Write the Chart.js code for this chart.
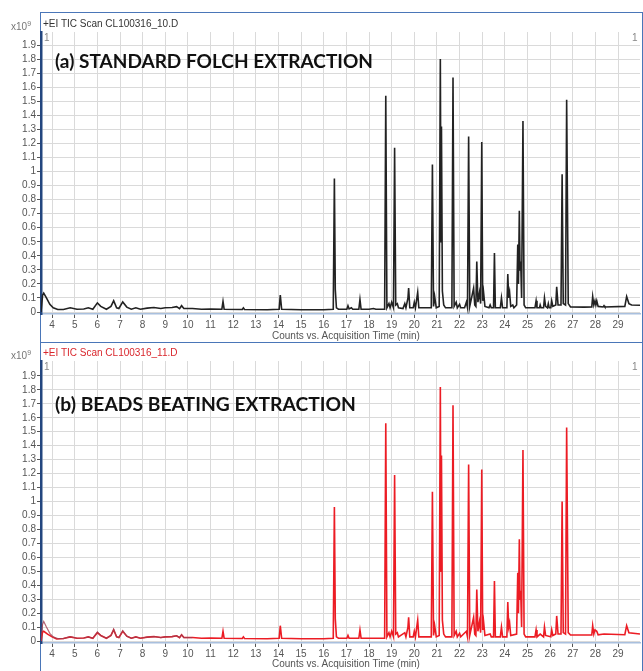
<!DOCTYPE html>
<html>
<head>
<meta charset="utf-8">
<script src="https://cdn.jsdelivr.net/npm/chart.js@4"></script>
<style>
  html, body { margin: 0; padding: 0; background: #fff; }
  #page { position: relative; width: 643px; height: 671px; overflow: hidden; font-family: 'Liberation Sans', Arial, sans-serif; }
  .frame { position: absolute; border: 1.5px solid #4a76b8; box-sizing: border-box; }
  .cv { position: absolute; left: 0; }
  .t { position: absolute; white-space: nowrap; font-size: 10px; line-height: 12px; color: #555; }
  .big { position: absolute; white-space: nowrap; font-family: Lato, 'Open Sans', sans-serif; font-weight: 700; font-size: 19px; color: #111; transform-origin: 0 50%; }
</style>
</head>
<body>
<div id="page">
  <div class="frame" style="left:40px;top:12px;width:603px;height:331px"></div>
  <div class="frame" style="left:40px;top:342px;width:603px;height:340px"></div>
  <div class="cv" style="top:0;width:643px;height:342px"><canvas id="chart-a"></canvas></div>
  <div class="cv" style="top:342px;width:643px;height:329px"><canvas id="chart-b"></canvas></div>

  <div class="t" style="left:11px;top:18px;color:#777">x10<sup style="font-size:7px;vertical-align:4px">9</sup></div>
  <div class="t" style="left:43px;top:18px;color:#333">+EI TIC Scan CL100316_10.D</div>
  <div class="t" style="left:44px;top:32px;color:#888">1</div>
  <div class="t" style="left:632px;top:32px;color:#888">1</div>
  <div class="big" id="lab-a" data-w="318" style="left:55px;top:49px">(a) STANDARD FOLCH EXTRACTION</div>
  <div class="t" style="left:272px;top:330px">Counts vs. Acquisition Time (min)</div>

  <div class="t" style="left:11px;top:347px;color:#777">x10<sup style="font-size:7px;vertical-align:4px">9</sup></div>
  <div class="t" style="left:43px;top:347px;color:#d9262c">+EI TIC Scan CL100316_11.D</div>
  <div class="t" style="left:44px;top:361px;color:#888">1</div>
  <div class="t" style="left:632px;top:361px;color:#888">1</div>
  <div class="big" id="lab-b" data-w="301" style="left:55px;top:392px">(b) BEADS BEATING EXTRACTION</div>
  <div class="t" style="left:272px;top:658px">Counts vs. Acquisition Time (min)</div>
</div>
<script>
// retention times (min) and abundances (x10^9 counts)
const timesA = [3.51, 3.58, 3.63, 3.75, 3.9, 4.05, 4.25, 4.5, 4.8, 5.1, 5.4, 5.6, 5.8, 6.0, 6.15, 6.4, 6.6, 6.72, 6.85, 6.95,
  7.12, 7.3, 7.5, 7.7, 7.9, 8.2, 8.5, 8.8, 9.0, 9.3, 9.5, 9.63, 9.72, 9.82, 10.2, 10.6, 11.0, 11.5, 11.55, 11.6,
  12.4, 12.45, 12.5, 13.5, 14.03, 14.08, 14.14, 15.0, 16.0, 16.42, 16.47, 16.51, 16.56, 16.65, 17.02, 17.07, 17.12, 17.22, 17.28, 17.55,
  17.6, 17.65, 18.0, 18.2, 18.3, 18.69, 18.74, 18.79, 18.88, 18.93, 19.0, 19.08, 19.13, 19.18, 19.25, 19.3, 19.5, 19.58, 19.63, 19.72,
  19.75, 19.8, 19.95, 20.0, 20.05, 20.15, 20.2, 20.55, 20.75, 20.8, 20.85, 20.9, 20.97, 21.1, 21.15, 21.18, 21.2, 21.24, 21.3, 21.38,
  21.66, 21.71, 21.76, 21.85, 21.9, 22.0, 22.05, 22.22, 22.3, 22.35, 22.4, 22.45, 22.62, 22.67, 22.72, 22.76, 22.81, 22.88, 22.93, 22.98,
  23.02, 23.06, 23.12, 23.3, 23.35, 23.4, 23.5, 23.54, 23.58, 23.8, 23.85, 23.9, 24.09, 24.13, 24.17, 24.21, 24.26, 24.35, 24.4, 24.52,
  24.57, 24.6, 24.64, 24.67, 24.7, 24.74, 24.8, 24.85, 24.92, 25.33, 25.38, 25.42, 25.53, 25.56, 25.6, 25.71, 25.75, 25.8, 25.88, 25.92,
  25.96, 26.03, 26.07, 26.12, 26.25, 26.29, 26.35, 26.48, 26.53, 26.58, 26.68, 26.73, 26.8, 26.9, 27.5, 27.84, 27.88, 27.93, 27.98, 28.02,
  28.06, 28.12, 28.34, 28.38, 28.42, 29.3, 29.38, 29.48, 29.6, 29.97];
const countsA = [0, 0.12, 0.135, 0.1, 0.055, 0.03, 0.018, 0.018, 0.03, 0.02, 0.022, 0.03, 0.02, 0.065, 0.04, 0.02, 0.04, 0.08, 0.03, 0.025,
  0.072, 0.035, 0.02, 0.03, 0.02, 0.028, 0.032, 0.025, 0.03, 0.032, 0.038, 0.024, 0.045, 0.025, 0.025, 0.02, 0.022, 0.02, 0.075, 0.02,
  0.018, 0.03, 0.018, 0.016, 0.02, 0.12, 0.02, 0.016, 0.016, 0.02, 0.95, 0.16, 0.03, 0.02, 0.02, 0.045, 0.022, 0.03, 0.02, 0.02,
  0.09, 0.02, 0.02, 0.025, 0.02, 0.02, 1.54, 0.03, 0.06, 0.03, 0.07, 0.03, 1.17, 0.05, 0.06, 0.03, 0.025, 0.06, 0.03, 0.1,
  0.17, 0.03, 0.03, 0.07, 0.03, 0.14, 0.03, 0.03, 0.03, 1.05, 0.04, 0.11, 0.03, 0.04, 1.8, 0.5, 1.32, 0.15, 0.05, 0.03,
  0.03, 1.67, 0.04, 0.07, 0.03, 0.055, 0.03, 0.03, 0.07, 0.03, 1.25, 0.04, 0.17, 0.05, 0.04, 0.36, 0.07, 0.14, 0.06, 1.21,
  0.08, 0.14, 0.04, 0.03, 0.05, 0.03, 0.03, 0.42, 0.03, 0.03, 0.1, 0.03, 0.03, 0.27, 0.1, 0.14, 0.04, 0.05, 0.03, 0.05,
  0.48, 0.2, 0.72, 0.3, 0.36, 0.1, 1.36, 0.05, 0.03, 0.03, 0.08, 0.03, 0.03, 0.05, 0.03, 0.03, 0.1, 0.04, 0.03, 0.06,
  0.03, 0.03, 0.08, 0.04, 0.05, 0.18, 0.05, 0.05, 0.98, 0.06, 0.05, 1.51, 0.06, 0.036, 0.035, 0.036, 0.11, 0.05, 0.08, 0.05,
  0.08, 0.04, 0.036, 0.045, 0.036, 0.04, 0.11, 0.06, 0.05, 0.048];

const timesB = [3.51, 3.58, 3.63, 3.8, 4.0, 4.2, 4.5, 4.8, 5.1, 5.4, 5.6, 5.8, 6.0, 6.15, 6.4, 6.6, 6.72, 6.85, 6.95, 7.12,
  7.3, 7.5, 7.7, 7.9, 8.2, 8.5, 8.8, 9.0, 9.3, 9.5, 9.63, 9.72, 9.82, 10.2, 10.6, 11.0, 11.5, 11.55, 11.6, 12.4,
  12.45, 12.5, 13.5, 14.03, 14.08, 14.14, 15.0, 16.0, 16.42, 16.47, 16.51, 16.56, 16.65, 17.02, 17.07, 17.12, 17.55, 17.6, 17.65, 18.0,
  18.69, 18.74, 18.79, 18.88, 18.93, 19.0, 19.08, 19.13, 19.18, 19.25, 19.3, 19.58, 19.63, 19.72, 19.75, 19.8, 19.95, 20.0, 20.05, 20.15,
  20.2, 20.75, 20.8, 20.85, 20.9, 20.97, 21.1, 21.15, 21.18, 21.2, 21.24, 21.3, 21.38, 21.66, 21.71, 21.76, 21.85, 21.9, 22.0, 22.05,
  22.3, 22.35, 22.4, 22.45, 22.62, 22.67, 22.72, 22.76, 22.81, 22.88, 22.93, 22.98, 23.02, 23.06, 23.12, 23.35, 23.4, 23.5, 23.54, 23.58,
  23.8, 23.85, 23.9, 24.09, 24.13, 24.17, 24.21, 24.26, 24.52, 24.57, 24.6, 24.64, 24.67, 24.7, 24.74, 24.8, 24.85, 24.92, 25.33, 25.38,
  25.42, 25.56, 25.71, 25.75, 25.8, 26.03, 26.07, 26.12, 26.25, 26.29, 26.35, 26.48, 26.53, 26.58, 26.68, 26.73, 26.8, 26.9, 27.84, 27.88,
  27.93, 27.98, 28.06, 28.12, 28.38, 29.3, 29.38, 29.48, 29.97];
const countsB = [0, 0.065, 0.07, 0.05, 0.03, 0.015, 0.018, 0.03, 0.02, 0.022, 0.03, 0.02, 0.06, 0.04, 0.02, 0.04, 0.08, 0.03, 0.025, 0.07,
  0.035, 0.02, 0.03, 0.02, 0.028, 0.032, 0.025, 0.03, 0.032, 0.038, 0.024, 0.045, 0.025, 0.025, 0.02, 0.022, 0.02, 0.07, 0.02, 0.018,
  0.03, 0.018, 0.016, 0.02, 0.11, 0.02, 0.016, 0.016, 0.02, 0.96, 0.16, 0.03, 0.02, 0.02, 0.04, 0.02, 0.02, 0.08, 0.02, 0.02,
  0.02, 1.56, 0.03, 0.06, 0.03, 0.07, 0.03, 1.19, 0.05, 0.06, 0.03, 0.06, 0.03, 0.1, 0.17, 0.03, 0.03, 0.07, 0.03, 0.15,
  0.03, 0.03, 1.07, 0.04, 0.11, 0.03, 0.04, 1.82, 0.5, 1.33, 0.15, 0.05, 0.03, 0.03, 1.69, 0.04, 0.07, 0.03, 0.055, 0.03,
  0.07, 0.03, 1.265, 0.04, 0.17, 0.05, 0.04, 0.37, 0.07, 0.14, 0.06, 1.23, 0.08, 0.14, 0.04, 0.05, 0.03, 0.03, 0.43, 0.03,
  0.03, 0.1, 0.03, 0.03, 0.28, 0.1, 0.13, 0.04, 0.05, 0.49, 0.2, 0.73, 0.3, 0.36, 0.1, 1.37, 0.05, 0.03, 0.03, 0.08,
  0.03, 0.05, 0.03, 0.1, 0.04, 0.03, 0.08, 0.04, 0.05, 0.18, 0.05, 0.05, 1.0, 0.06, 0.05, 1.53, 0.06, 0.043, 0.043, 0.11,
  0.05, 0.08, 0.07, 0.045, 0.05, 0.045, 0.11, 0.06, 0.05];

// second, darker trace visible at the start of panel (b)
const timesC = [3.51, 3.58, 3.63, 3.75, 3.9, 4.05, 4.25, 4.5, 4.8, 5.1, 5.4, 5.6, 5.8, 6.0, 6.15, 6.4, 6.6, 6.72, 6.85, 6.95,
  7.12, 7.3, 7.5, 7.7, 7.9, 8.2, 8.5, 8.8, 9.0, 9.3, 9.5, 9.63, 9.72, 9.82, 10.2];
const countsC = [0, 0.12, 0.14, 0.1, 0.055, 0.03, 0.018, 0.018, 0.032, 0.02, 0.022, 0.03, 0.02, 0.065, 0.04, 0.02, 0.04, 0.085, 0.03, 0.025,
  0.075, 0.035, 0.02, 0.03, 0.02, 0.028, 0.032, 0.025, 0.03, 0.032, 0.038, 0.024, 0.045, 0.025, 0.025];

const timeTicks = [4, 5, 6, 7, 8, 9, 10, 11, 12, 13, 14, 15, 16, 17, 18, 19, 20, 21, 22, 23, 24, 25, 26, 27, 28, 29];
const countTicks = [0, 0.1, 0.2, 0.3, 0.4, 0.5, 0.6, 0.7, 0.8, 0.9, 1, 1.1, 1.2, 1.3, 1.4, 1.5, 1.6, 1.7, 1.8, 1.9];

const toPoints = (xs, ys) => xs.map((x, i) => ({ x, y: ys[i] }));

const tickFont = { family: "'Liberation Sans', Arial, sans-serif", size: 10 };

const makeOptions = ({ top, yMax }) => ({
  responsive: true,
  maintainAspectRatio: false,
  animation: false,
  events: [],
  layout: { padding: { top, right: 3, left: 0, bottom: 0 } },
  plugins: { legend: { display: false }, tooltip: { enabled: false } },
  elements: { point: { radius: 0 }, line: { tension: 0 } },
  scales: {
    x: {
      type: 'linear',
      min: 3.51,
      max: 29.97,
      afterBuildTicks: (s) => { s.ticks = timeTicks.map((v) => ({ value: v })); },
      afterFit: (s) => { s.height = 28; },
      ticks: { color: '#555', font: tickFont, padding: 1, maxRotation: 0, autoSkip: false },
      grid: { color: '#dadada', tickColor: '#555', tickLength: 4, lineWidth: 1 },
      border: { display: true, color: '#a9c0de', width: 1.5 }
    },
    y: {
      min: -0.014,
      max: yMax,
      afterBuildTicks: (s) => { s.ticks = countTicks.map((v) => ({ value: v })); },
      afterFit: (s) => { s.width = 41; },
      ticks: { color: '#555', font: tickFont, padding: 1, autoSkip: false, callback: (v) => String(+v.toFixed(1)) },
      grid: { color: '#dadada', tickColor: '#555', tickLength: 4, lineWidth: 1 },
      border: { display: true, color: '#23467f', width: 2.5 }
    }
  }
});

new Chart(document.getElementById('chart-a'), {
  type: 'line',
  data: { datasets: [{ data: toPoints(timesA, countsA), borderColor: '#222', borderWidth: 1.6 }] },
  options: makeOptions({ top: 32, yMax: 1.993 })
});

new Chart(document.getElementById('chart-b'), {
  type: 'line',
  data: {
    datasets: [
      { data: toPoints(timesC, countsC), borderColor: 'rgba(160,60,80,0.8)', borderWidth: 1.2, order: 0 },
      { data: toPoints(timesB, countsB), borderColor: '#ec1c24', borderWidth: 1.6, order: 1 }
    ]
  },
  options: makeOptions({ top: 19, yMax: 2.007 })
});

// stretch the bold panel labels to the width they have in the figure
document.querySelectorAll('.big').forEach((el) => {
  const w = el.getBoundingClientRect().width;
  el.style.transform = `scaleX(${(+el.dataset.w / w).toFixed(3)})`;
});
</script>
</body>
</html>
